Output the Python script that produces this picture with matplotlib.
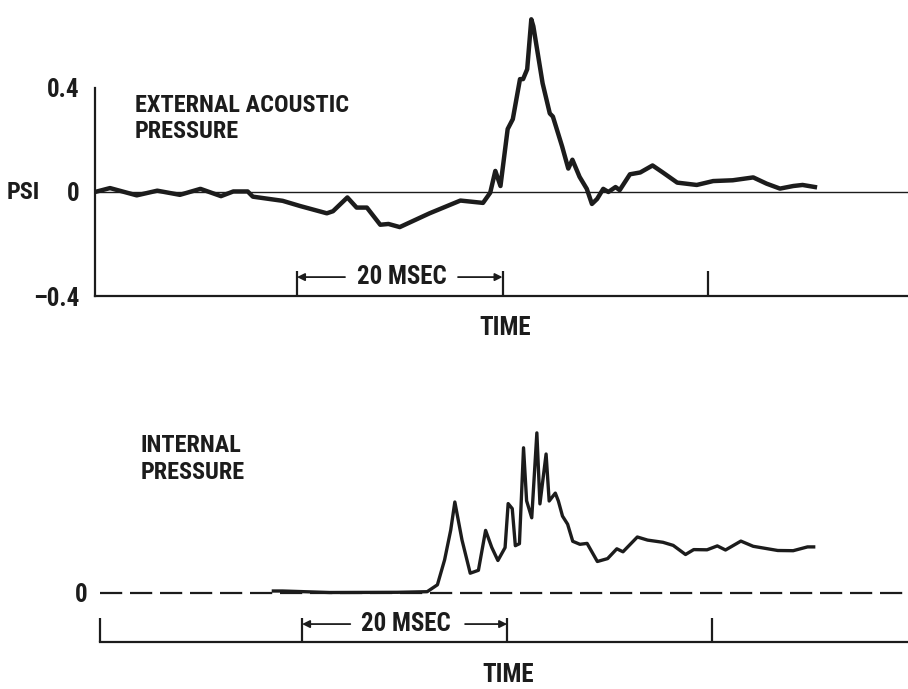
import matplotlib
matplotlib.use("Agg")
import matplotlib.pyplot as plt
from matplotlib import font_manager as fm

# External acoustic pressure (psi) against time (ms)
ext_time = [0.34, 1.8, 4.4, 6.4, 8.6, 10.6, 12.6, 13.8, 15.2, 15.7, 18.6, 20.3,
            22.9, 23.5, 24.9, 25.8, 26.8, 28.1, 28.9, 30.0, 32.9, 35.9, 38.1,
            38.8, 39.3, 39.8, 40.5, 41.0, 41.7, 42.0, 42.4, 42.8, 43.0, 43.9,
            44.6, 44.9, 45.8, 46.4, 46.8, 47.5, 48.2, 48.7, 49.2, 49.8, 50.3,
            51.0, 51.4, 52.4, 53.4, 54.6, 55.6, 57.0, 58.9, 60.5, 62.4, 64.4,
            65.7, 67.0, 68.3, 69.2, 70.4]
ext_psi = [0.0, 0.015, -0.013, 0.005, -0.011, 0.012, -0.016, 0.002, 0.002,
           -0.018, -0.034, -0.054, -0.082, -0.074, -0.021, -0.060, -0.060,
           -0.126, -0.123, -0.135, -0.082, -0.033, -0.042, -0.003, 0.081,
           0.023, 0.242, 0.280, 0.434, 0.434, 0.472, 0.664, 0.637, 0.418,
           0.302, 0.290, 0.175, 0.090, 0.124, 0.058, 0.012, -0.046, -0.027,
           0.012, 0.0, 0.019, 0.007, 0.068, 0.075, 0.102, 0.075, 0.036,
           0.027, 0.042, 0.045, 0.056, 0.032, 0.013, 0.023, 0.027, 0.019]

# Internal pressure (relative units) against time (ms)
int_time = [17.2, 18.1, 22.7, 29.3, 32.2, 33.2, 33.9, 34.5, 34.9, 35.6, 36.4,
            37.2, 37.9, 38.5, 39.1, 39.8, 40.1, 40.5, 40.8, 41.2, 41.6, 41.9,
            42.4, 42.9, 43.2, 43.8, 44.1, 44.7, 45.0, 45.4, 45.9, 46.4, 47.1,
            47.8, 48.8, 49.8, 50.7, 51.3, 52.7, 53.7, 55.2, 56.2, 57.4, 58.2,
            59.5, 60.5, 61.3, 62.8, 64.0, 66.4, 67.9, 69.3, 69.9]
int_rel = [0.02, 0.02, 0.005, 0.007, 0.013, 0.082, 0.331, 0.63, 0.91, 0.529,
           0.198, 0.227, 0.626, 0.456, 0.325, 0.454, 0.894, 0.844, 0.473,
           0.493, 1.452, 0.922, 0.752, 1.601, 0.891, 1.39, 0.92, 0.999, 0.919,
           0.769, 0.688, 0.517, 0.487, 0.496, 0.315, 0.344, 0.442, 0.412,
           0.56, 0.529, 0.507, 0.476, 0.385, 0.434, 0.432, 0.471, 0.43, 0.519,
           0.467, 0.425, 0.423, 0.461, 0.461]

psi_ticks = [-0.4, 0.0, 0.4]
psi_labels = ["\u20130.4", "0", "0.4"]
time_marks = [20, 40, 60]

INK = "#1c1c1c"

# Pick the narrowest bold sans face that is installed
_faces = fm.fontManager.ttflist
_names = {f.name for f in _faces}
FONT = ["DejaVu Sans"]
STRETCH = "normal"
for cand in ("Liberation Sans Narrow", "Roboto Condensed", "Open Sans Condensed",
             "DejaVu Sans Condensed"):
    if cand in _names:
        FONT = [cand, "DejaVu Sans"]
        break
else:
    if any(f.name == "DejaVu Sans" and str(f.stretch) in ("condensed", "semi-condensed", "75", "87.5")
           for f in _faces):
        STRETCH = "condensed"

plt.rcParams["font.family"] = FONT
plt.rcParams["font.weight"] = "bold"
plt.rcParams["font.stretch"] = STRETCH

W, H = 908, 689
fig = plt.figure(figsize=(W / 100, H / 100), dpi=100)


def px_axes(left, top, right, bottom):
    return fig.add_axes([left / W, 1 - bottom / H, (right - left) / W, (bottom - top) / H])


TXT = dict(fontweight="bold", color=INK, fontstretch=STRETCH)
TITLE_FS = 17.5
LABEL_FS = 18

# ---------------- external acoustic pressure ----------------
ax1 = px_axes(95, 5, 908, 296)
ax1.set_xlim(0.34, 79.46)
ax1.set_ylim(-0.4, 0.719)
ax1.plot(ext_time, ext_psi, color=INK, lw=3.2, solid_joinstyle="round")
ax1.axhline(0, color=INK, lw=1.0, zorder=1)

for s in ("top", "right"):
    ax1.spines[s].set_visible(False)
for s in ("left", "bottom"):
    ax1.spines[s].set_color(INK)
    ax1.spines[s].set_linewidth(1.6)
ax1.spines["left"].set_bounds(-0.4, 0.4)

ax1.set_yticks(psi_ticks)
ax1.set_yticklabels(psi_labels, fontsize=LABEL_FS, **TXT)
ax1.set_yticks([0.4], minor=True)
ax1.tick_params(axis="y", which="major", length=0, pad=11)
ax1.tick_params(axis="y", which="minor", direction="in", length=16.5, width=1.6, color=INK)
ax1.set_xticks(time_marks)
ax1.set_xticklabels([])
ax1.tick_params(axis="x", direction="in", length=18, width=1.6, color=INK)

ax1.set_ylabel("PSI", rotation=0, fontsize=17.5, ha="right", va="center", **TXT)
ax1.yaxis.set_label_coords(-0.068, 0.357)
ax1.set_xlabel("TIME", fontsize=LABEL_FS, va="center", **TXT)
ax1.xaxis.set_label_coords(0.504, -0.11)

ax1.text(0.049, 0.695, "EXTERNAL ACOUSTIC\nPRESSURE", transform=ax1.transAxes,
         ha="left", va="top", fontsize=TITLE_FS, linespacing=1.2, **TXT)

tr1 = ax1.get_xaxis_transform()
ax1.text(30.17, 0.065, "20 MSEC", transform=tr1, ha="center", va="center",
         fontsize=LABEL_FS, **TXT)
arrow_kw = dict(arrowstyle="-|>", lw=1.3, color=INK, shrinkA=0, shrinkB=0,
                mutation_scale=11)
ax1.annotate("", xy=(20, 0.065), xytext=(24.67, 0.065), xycoords=tr1,
             textcoords=tr1, arrowprops=arrow_kw)
ax1.annotate("", xy=(40, 0.065), xytext=(35.67, 0.065), xycoords=tr1,
             textcoords=tr1, arrowprops=arrow_kw)

# ---------------- internal pressure ----------------
ax2 = px_axes(100, 415, 908, 642)
t_left = 0.29
ax2.set_xlim(t_left, 79.1)
ax2.set_ylim(-0.49, 1.78)
ax2.plot(int_time, int_rel, color=INK, lw=2.4, solid_joinstyle="round")
ax2.axhline(0, color=INK, lw=1.6, linestyle=(0, (10, 3.5)), zorder=1)

for s in ("top", "right", "left"):
    ax2.spines[s].set_visible(False)
ax2.spines["bottom"].set_color(INK)
ax2.spines["bottom"].set_linewidth(1.6)

ax2.set_yticks([0])
ax2.set_yticklabels(["0"], fontsize=LABEL_FS, **TXT)
ax2.tick_params(axis="y", length=0, pad=9)
ax2.set_xticks([t_left] + time_marks)
ax2.set_xticklabels([])
ax2.tick_params(axis="x", direction="in", length=17, width=1.6, color=INK)

ax2.set_xlabel("TIME", fontsize=LABEL_FS, va="center", **TXT)
ax2.xaxis.set_label_coords(0.505, -0.145)

ax2.text(0.05, 0.915, "INTERNAL\nPRESSURE", transform=ax2.transAxes,
         ha="left", va="top", fontsize=TITLE_FS, linespacing=1.2, **TXT)

tr2 = ax2.get_xaxis_transform()
ax2.text(30.15, 0.079, "20 MSEC", transform=tr2, ha="center", va="center",
         fontsize=LABEL_FS, **TXT)
ax2.annotate("", xy=(20, 0.079), xytext=(24.7, 0.079), xycoords=tr2,
             textcoords=tr2, arrowprops=arrow_kw)
ax2.annotate("", xy=(40, 0.079), xytext=(35.9, 0.079), xycoords=tr2,
             textcoords=tr2, arrowprops=arrow_kw)

fig.savefig("out.png", dpi=100, facecolor="white")
